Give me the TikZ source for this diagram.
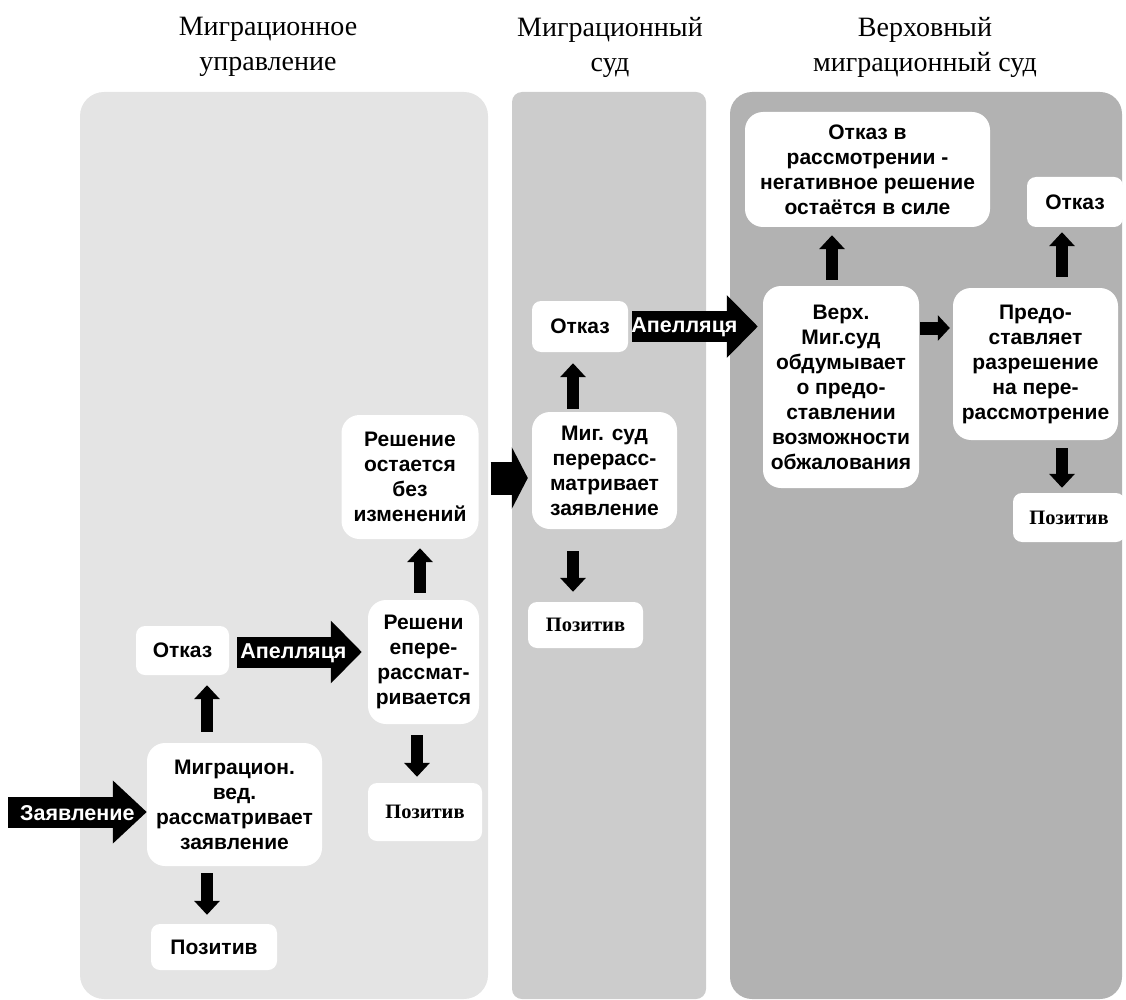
\documentclass[tikz,border=0pt]{standalone}
\usepackage{fontspec}
\setmainfont{Liberation Serif}
\setsansfont{Liberation Sans}
\usetikzlibrary{arrows.meta,calc}
\definecolor{lane1}{HTML}{E4E4E4}
\definecolor{lane2}{HTML}{CCCCCC}
\definecolor{lane3}{HTML}{B2B2B2}
\tikzset{
  lane_head/.style = {align=center, font=\fontsize{28}{35}\selectfont},
  box_n/.style = {align=center, inner sep=2pt, fill=white, rounded corners=18pt, font=\sffamily\bfseries\fontsize{21}{25}\selectfont},
  box_s/.style = {box_n, rounded corners=9pt},
  box_p/.style = {box_s, font=\rmfamily\bfseries\fontsize{20.5}{25}\selectfont},
  up_arr/.style = {line width=12pt, -{Triangle[length=14pt,width=25pt]}},
  fat_arr/.style = {line width=31pt, -{Triangle[length=31pt,width=61pt]}},
  arr_lbl/.style = {text=white, font=\sffamily\bfseries\fontsize{21.5}{25}\selectfont}
}

\begin{document}
\begin{tikzpicture}[x=1pt, y=-1pt]
\useasboundingbox (0,0) rectangle (1126,1000);
\fill[lane1, rounded corners=24pt] (80,92) rectangle (488,999);
\fill[lane2, rounded corners=10pt] (512,92) rectangle (706,999);
\fill[lane3, rounded corners=22pt] (730,92) rectangle (1122,999);

\node[lane_head] (h1) at (268,47) {Миграционное\\управление};
\node[lane_head] (h2) at (610,47) {Миграционный\\суд};
\node[lane_head] (h3) at (925,47) {Верховный\\миграционный суд};

\node[box_n, minimum width=175pt, minimum height=123pt] (mig) at (234.5,804.5) {Миграцион.\\вед.\\рассматривает\\заявление};
\node[box_s, minimum width=93pt, minimum height=49pt] (otkazA) at (182.5,650.5) {Отказ};
\node[box_s, minimum width=126pt, minimum height=46pt] (pozA) at (214,947) {Позитив};
\node[box_n, minimum width=111pt, minimum height=124pt] (reshA) at (423.5,662) {Решени\\епере-\\рассмат-\\ривается};
\node[box_p, minimum width=114pt, minimum height=58pt] (pozB) at (425,812) {Позитив};
\node[box_n, minimum width=137pt, minimum height=124pt] (stays) at (410,477) {Решение\\остается\\без\\изменений};

\node[box_n, minimum width=145pt, minimum height=117pt] (sudA) at (604.5,470.5) {Миг. суд\\перерасс-\\матривает\\заявление};
\node[box_s, minimum width=96pt, minimum height=51pt] (otkazB) at (580,326.5) {Отказ};
\node[box_p, minimum width=115pt, minimum height=46pt] (pozC) at (585.5,625) {Позитив};

\node[box_n, minimum width=245pt, minimum height=115pt] (refuse) at (867.5,169.5) {Отказ в\\рассмотрении -\\негативное решение\\остаётся в силе};
\node[box_n, minimum width=156pt, minimum height=202pt] (verh) at (841,387) {Верх.\\Миг.суд\\обдумывает\\о предо-\\ставлении\\возможности\\обжалования};
\node[box_n, minimum width=165pt, minimum height=152pt] (predo) at (1035.5,364) {Предо-\\ставляет\\разрешение\\на пере-\\рассмотрение};
\node[box_s, minimum width=96pt, minimum height=50pt] (otkazC) at (1075,202) {Отказ};
\node[box_p, minimum width=112pt, minimum height=49pt] (pozD) at (1069,517.5) {Позитив};

\coordinate (start) at (8,812);
\draw[fat_arr, -{Triangle[length=34pt,width=61pt]}] (start) -- (start -| mig.west) node[midway, yshift=-1pt, arr_lbl] {Заявление};
\draw[fat_arr, shorten <=8pt, shorten >=6pt] ([yshift=-1.5pt]otkazA.east) -- ([yshift=-1.5pt]otkazA.east -| reshA.west) node[midway, xshift=-5pt, yshift=-1pt, arr_lbl] {Апелляця};
\draw[fat_arr, shorten <=4pt, shorten >=5pt] (otkazB.east) -- (otkazB.east -| verh.west) node[midway, xshift=-11pt, yshift=-1pt, arr_lbl] {Апелляця};
\draw[line width=33pt, -{Triangle[length=16pt,width=61pt]}, shorten <=12pt, shorten >=4pt] ([yshift=-1pt]stays.east) -- ([yshift=-1pt]stays.east -| sudA.west);
\draw[up_arr, -{Triangle[length=12pt,width=25pt]}, line width=13pt, shorten <=1pt, shorten >=3pt] ([yshift=59pt]verh.east) -- ([yshift=59pt]verh.east -| predo.west);

\draw[up_arr, shorten <=11pt, shorten >=10pt] ([xshift=-27.5pt]mig.north) -- ([xshift=-27.5pt]mig.north |- otkazA.south);
\draw[up_arr, shorten <=7pt, shorten >=9pt] ([xshift=-27.5pt]mig.south) -- ([xshift=-27.5pt]mig.south |- pozA.north);
\draw[up_arr, shorten <=11pt, shorten >=6pt] ([xshift=-6.5pt]reshA.south) -- ([xshift=-6.5pt]reshA.south |- pozB.north);
\draw[up_arr, shorten <=7pt, shorten >=9pt] ([xshift=-3.5pt]reshA.north) -- ([xshift=-3.5pt]reshA.north |- stays.south);
\draw[up_arr, shorten <=3pt, shorten >=11pt] ([xshift=-31.5pt]sudA.north) -- ([xshift=-31.5pt]sudA.north |- otkazB.south);
\draw[up_arr, shorten <=22pt, shorten >=10pt] ([xshift=-31.5pt]sudA.south) -- ([xshift=-31.5pt]sudA.south |- pozC.north);
\draw[up_arr, shorten <=6pt, shorten >=8pt] ([xshift=-9pt]verh.north) -- ([xshift=-9pt]verh.north |- refuse.south);
\draw[up_arr, shorten <=11pt, shorten >=5pt] ([xshift=26.5pt]predo.north) -- ([xshift=26.5pt]predo.north |- otkazC.south);
\draw[up_arr, shorten <=8pt, shorten >=5pt] ([xshift=26.5pt]predo.south) -- ([xshift=26.5pt]predo.south |- pozD.north);
\end{tikzpicture}
\end{document}
